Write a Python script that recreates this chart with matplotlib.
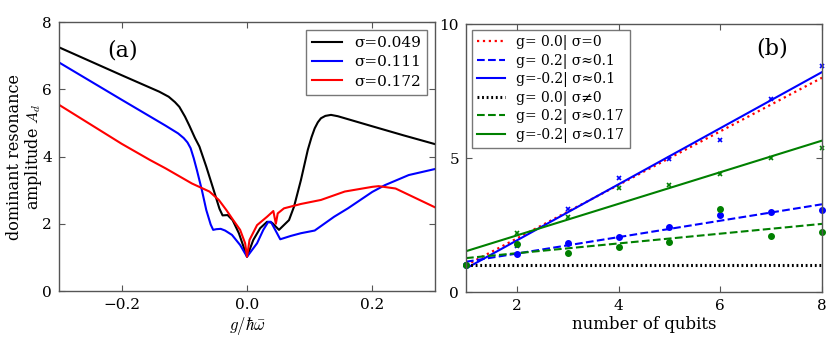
import numpy as np
import matplotlib
matplotlib.use("Agg")
import matplotlib.pyplot as plt

plt.rcParams['font.family'] = ['DejaVu Serif']
plt.rcParams['mathtext.fontset'] = 'cm'

# ---------------- panel (a) data ----------------
g_black = [-0.3, -0.2, -0.14, -0.125, -0.115, -0.108, -0.099, -0.092, -0.083, -0.076,
           -0.065, -0.054, -0.044, -0.039, -0.031, -0.023, -0.013, 0.0, 0.010, 0.021,
           0.032, 0.040, 0.051, 0.067, 0.075, 0.086, 0.097, 0.103, 0.108, 0.113,
           0.118, 0.125, 0.134, 0.145, 0.156, 0.2, 0.25, 0.3]
A_black = [7.25, 6.42, 5.93, 5.78, 5.62, 5.48, 5.19, 4.92, 4.55, 4.30,
           3.70, 3.05, 2.45, 2.25, 2.26, 2.11, 1.72, 1.02, 1.52, 1.87,
           2.06, 2.03, 1.82, 2.11, 2.51, 3.30, 4.20, 4.58, 4.84, 5.02,
           5.14, 5.21, 5.24, 5.20, 5.14, 4.90, 4.63, 4.37]

g_blue = [-0.3, -0.2, -0.13, -0.110, -0.101, -0.095, -0.090, -0.085, -0.080, -0.072,
          -0.065, -0.058, -0.054, -0.049, -0.042, -0.035, -0.024, -0.011, 0.0, 0.016,
          0.026, 0.034, 0.038, 0.045, 0.053, 0.070, 0.086, 0.108, 0.139, 0.161,
          0.2, 0.22, 0.258, 0.3]
A_blue = [6.80, 5.69, 4.92, 4.69, 4.55, 4.42, 4.25, 3.95, 3.60, 3.00,
          2.41, 1.98, 1.82, 1.84, 1.85, 1.80, 1.67, 1.37, 1.02, 1.42,
          1.82, 2.06, 2.06, 1.82, 1.54, 1.64, 1.72, 1.80, 2.21, 2.46,
          2.95, 3.15, 3.45, 3.63]

g_red = [-0.3, -0.2, -0.155, -0.13, -0.088, -0.060, -0.045, -0.033, -0.022, -0.011,
         -0.003, 0.0, 0.004, 0.016, 0.032, 0.042, 0.046, 0.049, 0.059, 0.086,
         0.118, 0.156, 0.2, 0.21, 0.237, 0.3]
A_red = [5.54, 4.38, 3.90, 3.65, 3.20, 2.96, 2.71, 2.41, 2.11, 1.82,
         1.42, 1.02, 1.52, 1.96, 2.21, 2.38, 2.00, 2.31, 2.46, 2.59,
         2.71, 2.96, 3.10, 3.12, 3.05, 2.49]

sigma_labels = ['σ=0.049', 'σ=0.111', 'σ=0.172']

# ---------------- panel (b) data ----------------
qubits = [1, 2, 3, 4, 5, 6, 7, 8]
A_g0_s0 = [1, 2, 3, 4, 5, 6, 7, 8]
A_gp_s01 = [1.0, 1.43, 1.83, 2.04, 2.41, 2.86, 2.99, 3.07]
A_gm_s01 = [1.0, 1.73, 3.10, 4.25, 4.96, 5.68, 7.20, 8.45]
A_g0_sn0 = [1, 1, 1, 1, 1, 1, 1, 1]
A_gp_s017 = [1.0, 1.79, 1.45, 1.70, 1.88, 3.09, 2.10, 2.24]
A_gm_s017 = [1.0, 2.20, 2.82, 3.90, 4.00, 4.40, 5.02, 5.37]
labels_b = ['g= 0.0| σ=0', 'g= 0.2| σ≈0.1', 'g=-0.2| σ≈0.1',
            'g= 0.0| σ≠0', 'g= 0.2| σ≈0.17', 'g=-0.2| σ≈0.17']

fig = plt.figure(figsize=(8.31, 3.4), dpi=100)
axa = fig.add_axes([0.071, 0.144, 0.4525, 0.791])
axb = fig.add_axes([0.5608, 0.141, 0.4284, 0.788])

for ax in (axa, axb):
    for s in ax.spines.values():
        s.set_color('#555555')
        s.set_linewidth(1.0)
    ax.tick_params(direction='in', top=True, right=True, length=4, width=0.8,
                   color='#555555', labelsize=11, pad=5)

axa.plot(g_black, A_black, color='k', lw=1.5, label=sigma_labels[0])
axa.plot(g_blue, A_blue, color='b', lw=1.5, label=sigma_labels[1])
axa.plot(g_red, A_red, color='r', lw=1.5, label=sigma_labels[2])
axa.set_xlim(-0.3, 0.3)
axa.set_ylim(0, 8)
axa.set_xticks([-0.2, 0.0, 0.2])
axa.set_yticks([0, 2, 4, 6, 8])
axa.set_xlabel(r'$g/\hbar\bar{\omega}$', fontsize=12, labelpad=2)
axa.set_ylabel('dominant resonance\namplitude $A_d$', fontsize=11.5, labelpad=-1,
               linespacing=1.0)
leg = axa.legend(loc='upper right', fontsize=11, fancybox=False, handlelength=2.0,
                 borderaxespad=0.5, labelspacing=0.35)
leg.get_frame().set_edgecolor('#555555')
axa.text(0.168, 0.895, '(a)', transform=axa.transAxes, fontsize=16,
         ha='center', va='center')

q = np.array(qubits, dtype=float)
xs = np.array([1.0, 8.0])

def fit(y):
    p = np.polyfit(q, np.array(y, dtype=float), 1)
    return np.polyval(p, xs)

axb.plot(xs, fit(A_g0_s0), color='r', ls=':', lw=1.6, label=labels_b[0])
axb.plot(xs, fit(A_gp_s01), color='b', ls='--', lw=1.5, label=labels_b[1])
axb.plot(xs, fit(A_gm_s01), color='b', ls='-', lw=1.5, label=labels_b[2])
axb.plot(xs, fit(A_g0_sn0), color='k', ls=(0, (0.6, 0.9)), lw=2.2, label=labels_b[3])
axb.plot(xs, fit(A_gp_s017), color='g', ls='--', lw=1.5, label=labels_b[4])
axb.plot(xs, fit(A_gm_s017), color='g', ls='-', lw=1.5, label=labels_b[5])

axb.plot(qubits, A_gp_s01, 'o', color='b', ms=4, clip_on=False)
axb.plot(qubits, A_gm_s01, 'x', color='b', ms=3.5, mew=1.2, clip_on=False)
axb.plot(qubits, A_gp_s017, 'o', color='g', ms=4, clip_on=False)
axb.plot(qubits, A_gm_s017, 'x', color='g', ms=3.5, mew=1.2, clip_on=False)

axb.set_xlim(1, 8)
axb.set_ylim(0, 10)
axb.set_xticks([2, 4, 6, 8])
axb.set_yticks([0, 5, 10])
axb.set_xlabel('number of qubits', fontsize=12, labelpad=2)
legb = axb.legend(loc='upper left', fontsize=10, fancybox=False, handlelength=2.0,
                  borderaxespad=0.4, labelspacing=0.25)
legb.get_frame().set_edgecolor('#555555')
axb.text(0.86, 0.91, '(b)', transform=axb.transAxes, fontsize=16,
         ha='center', va='center')

fig.savefig('out.png', dpi=100)
